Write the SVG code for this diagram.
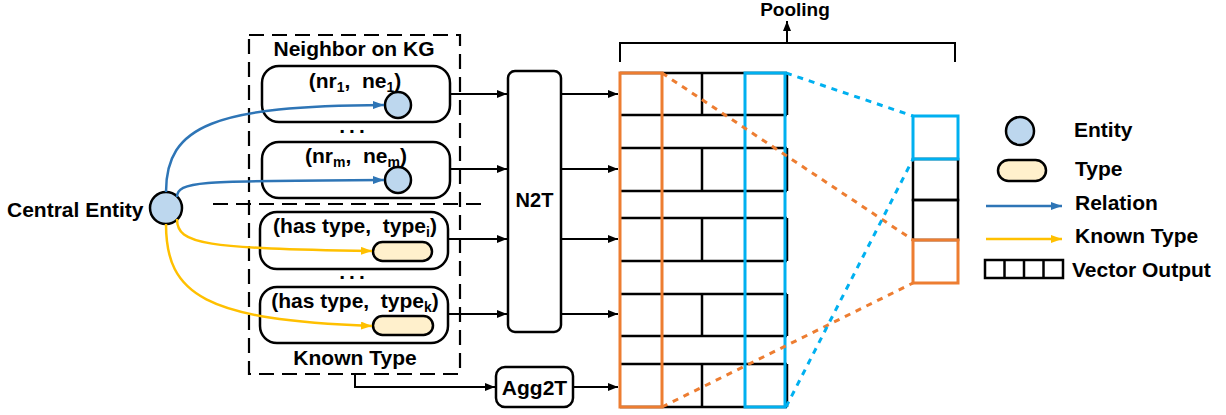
<svg xmlns="http://www.w3.org/2000/svg" width="1226" height="415" viewBox="0 0 1226 415">
<style>
text{font-family:"Liberation Sans",Arial,sans-serif;font-weight:bold;fill:#000;}
.t{font-size:21px;}
.c{text-anchor:middle;}
.box{fill:#fff;stroke:#000;stroke-width:2.5;}
.ent{fill:#BDD7EE;stroke:#000;stroke-width:2.5;}
.typ{fill:#FFF0CC;stroke:#000;stroke-width:2.5;}
.ln{fill:none;stroke:#000;stroke-width:2;}
.gl{fill:none;stroke:#000;stroke-width:2.5;}
.rel{fill:none;stroke:#2E75B6;stroke-width:2.5;}
.kt{fill:none;stroke:#FFC000;stroke-width:2.5;}
.od{fill:none;stroke:#ED7D31;stroke-width:3;stroke-dasharray:6 6;}
.bd{fill:none;stroke:#00B0F0;stroke-width:3;stroke-dasharray:6 6;}
.dash{fill:none;stroke:#000;stroke-width:2.2;stroke-dasharray:15 8;}
</style>
<defs>
<marker id="ak" markerUnits="userSpaceOnUse" markerWidth="10" markerHeight="8" refX="10" refY="4" orient="auto"><path d="M0,0 L10,4 L0,8 z" fill="#000"/></marker>
<marker id="ab" markerUnits="userSpaceOnUse" markerWidth="11" markerHeight="8" refX="11" refY="4" orient="auto"><path d="M0,0 L11,4 L0,8 z" fill="#2E75B6"/></marker>
<marker id="ay" markerUnits="userSpaceOnUse" markerWidth="11" markerHeight="8" refX="11" refY="4" orient="auto"><path d="M0,0 L11,4 L0,8 z" fill="#FFC000"/></marker>
</defs>

<g id="known-group-frame">
<rect x="249" y="35" width="211" height="339" class="dash"/>
<line x1="213" y1="204" x2="482" y2="204" class="dash"/>
<text x="354" y="56" class="t c">Neighbor on KG</text>
<text x="355" y="365" class="t c">Known Type</text>
<text x="354" y="133" class="t c" letter-spacing="4">...</text>
<text x="354" y="279" class="t c" letter-spacing="4">...</text>
</g>

<g id="central-entity">
<text x="7" y="217" class="t">Central Entity</text>
<circle cx="166" cy="208" r="16" class="ent"/>
</g>

<g id="neighbor-1">
<rect x="262" y="66" width="188" height="56" rx="17" class="box"/>
<text x="355" y="88" class="t c" xml:space="preserve">(nr<tspan font-size="14" dy="4">1</tspan><tspan dy="-4">,  ne</tspan><tspan font-size="14" dy="4">1</tspan><tspan dy="-4">)</tspan></text>
<circle cx="398" cy="105" r="13" class="ent"/>
</g>

<g id="neighbor-m">
<rect x="262" y="142" width="188" height="56" rx="17" class="box"/>
<text x="356" y="163" class="t c" xml:space="preserve">(nr<tspan font-size="14" dy="4">m</tspan><tspan dy="-4">,  ne</tspan><tspan font-size="14" dy="4">m</tspan><tspan dy="-4">)</tspan></text>
<circle cx="398" cy="180" r="13" class="ent"/>
</g>

<g id="type-i">
<rect x="260" y="212" width="188" height="57" rx="17" class="box"/>
<text x="355" y="233" class="t c" xml:space="preserve">(has type,  type<tspan font-size="14" dy="4">i</tspan><tspan dy="-4">)</tspan></text>
<rect x="373" y="242" width="59" height="19" rx="9.5" class="typ"/>
</g>

<g id="type-k">
<rect x="260" y="287" width="188" height="56" rx="17" class="box"/>
<text x="355" y="308" class="t c" xml:space="preserve">(has type,  type<tspan font-size="14" dy="4">k</tspan><tspan dy="-4">)</tspan></text>
<rect x="373" y="316" width="60" height="19" rx="9.5" class="typ"/>
</g>

<g id="n2t">
<rect x="508" y="71" width="53" height="261" rx="7" class="box"/>
<text x="534.5" y="207" class="c" font-size="20">N2T</text>
</g>

<g id="agg2t">
<rect x="496" y="367" width="77" height="40" rx="9" class="box"/>
<text x="534.5" y="395" class="t c">Agg2T</text>
</g>

<g id="matrix">
<g class="gl">
<line x1="620" y1="73" x2="787" y2="73"/>
<line x1="620" y1="115" x2="787" y2="115"/>
<line x1="620" y1="148" x2="787" y2="148"/>
<line x1="620" y1="191" x2="787" y2="191"/>
<line x1="620" y1="218" x2="787" y2="218"/>
<line x1="620" y1="261" x2="787" y2="261"/>
<line x1="620" y1="294" x2="787" y2="294"/>
<line x1="620" y1="336" x2="787" y2="336"/>
<line x1="620" y1="364" x2="787" y2="364"/>
<line x1="620" y1="407" x2="787" y2="407"/>
<line x1="702" y1="73" x2="702" y2="115"/>
<line x1="702" y1="148" x2="702" y2="191"/>
<line x1="702" y1="218" x2="702" y2="261"/>
<line x1="702" y1="294" x2="702" y2="336"/>
<line x1="702" y1="364" x2="702" y2="407"/>
<line x1="787" y1="73" x2="787" y2="115"/>
<line x1="787" y1="148" x2="787" y2="191"/>
<line x1="787" y1="218" x2="787" y2="261"/>
<line x1="787" y1="294" x2="787" y2="336"/>
<line x1="787" y1="364" x2="787" y2="407"/>
</g>
<rect x="620" y="73" width="42" height="334" fill="none" stroke="#ED7D31" stroke-width="3"/>
<rect x="745" y="73" width="40" height="334" fill="none" stroke="#00B0F0" stroke-width="3"/>
</g>

<g id="pooled-vector">
<rect x="913" y="159" width="45" height="41" class="gl"/>
<rect x="913" y="200" width="45" height="40" class="gl"/>
<rect x="913" y="116" width="45" height="43" fill="none" stroke="#00B0F0" stroke-width="3"/>
<rect x="913" y="240" width="45" height="43" fill="none" stroke="#ED7D31" stroke-width="3"/>
</g>

<g id="pooling">
<path d="M620,62 V43 H955 V62" class="ln"/>
<text x="795" y="16" class="c" font-size="19">Pooling</text>
</g>

<g id="legend">
<circle cx="1020" cy="131" r="14" class="ent"/>
<text x="1074" y="137" class="t">Entity</text>
<rect x="998" y="160" width="48" height="21" rx="10.5" class="typ"/>
<text x="1075" y="176" class="t">Type</text>
<line x1="986" y1="206" x2="1062" y2="206" class="rel" marker-end="url(#ab)"/>
<text x="1075" y="210" class="t">Relation</text>
<line x1="986" y1="239" x2="1062" y2="239" class="kt" marker-end="url(#ay)"/>
<text x="1075" y="243" class="t">Known Type</text>
<g class="gl">
<rect x="985" y="260" width="78" height="18"/>
<line x1="1004.5" y1="260" x2="1004.5" y2="278"/>
<line x1="1024" y1="260" x2="1024" y2="278"/>
<line x1="1043.5" y1="260" x2="1043.5" y2="278"/>
</g>
<text x="1072" y="277" class="t">Vector Output</text>
</g>

<g id="connectors">
<path d="M166,192 C166,125 215,106 384,105" class="rel" marker-end="url(#ab)"/>
<path d="M177,197 C177,180 205,181 384,180" class="rel" marker-end="url(#ab)"/>
<path d="M177,219 C177,245 205,248 372,251" class="kt" marker-end="url(#ay)"/>
<path d="M166,224 C166,295 205,320 372,326" class="kt" marker-end="url(#ay)"/>
<line x1="450" y1="94" x2="507" y2="94" class="ln" marker-end="url(#ak)"/>
<line x1="450" y1="169" x2="507" y2="169" class="ln" marker-end="url(#ak)"/>
<line x1="448" y1="239" x2="507" y2="239" class="ln" marker-end="url(#ak)"/>
<line x1="448" y1="314" x2="507" y2="314" class="ln" marker-end="url(#ak)"/>
<line x1="561" y1="94" x2="618" y2="94" class="ln" marker-end="url(#ak)"/>
<line x1="561" y1="169" x2="618" y2="169" class="ln" marker-end="url(#ak)"/>
<line x1="561" y1="239" x2="618" y2="239" class="ln" marker-end="url(#ak)"/>
<line x1="561" y1="314" x2="618" y2="314" class="ln" marker-end="url(#ak)"/>
<path d="M355,374 V387 H495" class="ln" marker-end="url(#ak)"/>
<line x1="573" y1="387" x2="618" y2="387" class="ln" marker-end="url(#ak)"/>
<line x1="787" y1="43" x2="787" y2="21" class="ln" marker-end="url(#ak)"/>
<line x1="662" y1="73" x2="913" y2="240" class="od"/>
<line x1="662" y1="407" x2="913" y2="283" class="od"/>
<line x1="786" y1="73" x2="913" y2="116" class="bd"/>
<line x1="786" y1="407" x2="913" y2="159" class="bd"/>
</g>
</svg>
